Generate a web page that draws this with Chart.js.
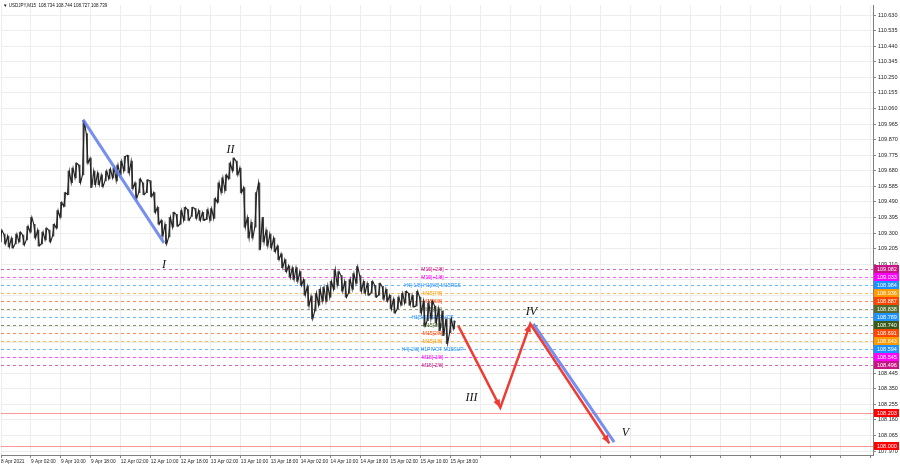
<!DOCTYPE html>
<html>
<head>
<meta charset="utf-8">
<script src="https://cdn.jsdelivr.net/npm/chart.js@4.4.1/dist/chart.umd.min.js"></script>
<style>
  html, body { margin: 0; padding: 0; background: #fff; }
  #wrap { width: 900px; height: 468px; }
</style>
</head>
<body>
<div id="wrap"><canvas id="chart" width="900" height="468"></canvas></div>
<script>
/* ---------------------------------
   DATA
--------------------------------- */
const symbolTitle = "\u25BC USDJPY,M15  108.734 108.744 108.727 108.739";

// one bar per trading hour, starting 8 Apr 18:00
const barHighs = [
  109.318, 109.294, 109.282, 109.270, 109.294, 109.306, 109.288, 109.342, 109.396, 109.354,
  109.318, 109.306, 109.330, 109.318, 109.354, 109.438, 109.487, 109.547, 109.679, 109.697,
  109.727, 109.715, 109.986, 109.908, 109.757, 109.679, 109.667, 109.655, 109.679, 109.691,
  109.697, 109.715, 109.739, 109.769, 109.775, 109.739, 109.607, 109.631, 109.607, 109.625,
  109.619, 109.547, 109.457, 109.378, 109.354, 109.396, 109.426, 109.414, 109.438, 109.457,
  109.444, 109.457, 109.450, 109.438, 109.426, 109.444, 109.450, 109.511, 109.607, 109.637,
  109.655, 109.727, 109.757, 109.739, 109.697, 109.577, 109.396, 109.366, 109.547, 109.607,
  109.396, 109.318, 109.294, 109.270, 109.222, 109.174, 109.138, 109.101, 109.089, 109.089,
  109.065, 109.017, 108.975, 108.915, 108.933, 108.957, 108.969, 108.981, 109.005, 109.077,
  109.065, 109.041, 109.005, 109.017, 109.053, 109.095, 109.041, 109.005, 108.993, 109.005,
  108.981, 108.993, 108.975, 108.957, 108.921, 108.897, 108.909, 108.933, 108.945, 108.933,
  108.921, 108.945, 108.909, 108.885, 108.873, 108.885, 108.855, 108.837, 108.825, 108.777,
  108.777, 108.765
];
const barLows = [
  109.246, 109.234, 109.216, 109.210, 109.234, 109.246, 109.228, 109.258, 109.306, 109.270,
  109.222, 109.234, 109.258, 109.246, 109.282, 109.330, 109.396, 109.463, 109.535, 109.607,
  109.637, 109.607, 109.655, 109.727, 109.577, 109.595, 109.595, 109.583, 109.619, 109.631,
  109.637, 109.619, 109.655, 109.679, 109.667, 109.571, 109.511, 109.547, 109.535, 109.547,
  109.523, 109.426, 109.354, 109.282, 109.234, 109.276, 109.336, 109.342, 109.354, 109.378,
  109.378, 109.402, 109.390, 109.378, 109.378, 109.384, 109.378, 109.390, 109.487, 109.547,
  109.559, 109.631, 109.679, 109.655, 109.547, 109.336, 109.270, 109.270, 109.336, 109.198,
  109.246, 109.222, 109.210, 109.186, 109.138, 109.089, 109.065, 109.029, 109.017, 109.005,
  108.981, 108.921, 108.855, 108.777, 108.825, 108.861, 108.885, 108.885, 108.909, 108.957,
  108.981, 108.945, 108.909, 108.933, 108.957, 108.993, 108.945, 108.933, 108.921, 108.933,
  108.909, 108.921, 108.897, 108.885, 108.837, 108.813, 108.837, 108.861, 108.873, 108.861,
  108.849, 108.855, 108.813, 108.734, 108.765, 108.777, 108.753, 108.704, 108.674, 108.626,
  108.692, 108.716
];

const timeLabels = [
  "8 Apr 2021", "9 Apr 02:00", "9 Apr 10:00", "9 Apr 18:00", "12 Apr 02:00", "12 Apr 10:00",
  "12 Apr 18:00", "13 Apr 02:00", "13 Apr 10:00", "13 Apr 18:00", "14 Apr 02:00", "14 Apr 10:00",
  "14 Apr 18:00", "15 Apr 02:00", "15 Apr 10:00", "15 Apr 18:00"
];

const priceTicks = [
  110.630, 110.535, 110.440, 110.345, 110.250, 110.155, 110.060, 109.965, 109.870, 109.775,
  109.680, 109.585, 109.490, 109.395, 109.300, 109.205, 109.110, 109.015, 108.920, 108.825,
  108.730, 108.635, 108.540, 108.445, 108.350, 108.255, 108.160, 108.065, 107.970
];

// Murrey levels
const levelPrices = [109.082, 109.033, 108.984, 108.936, 108.887, 108.838, 108.789,
                     108.740, 108.691, 108.643, 108.594, 108.545, 108.496, 108.203, 108.000];
const levelTexts = ["M15[+2/8]", "M15[+1/8]", "H4[-1/8] H1[8/8] M15RES", "M15[7/8]", "M15[6/8]",
                    "M15[5/8]", "H1[5/8] M15PIVOT", "M15[3/8]", "M15[2/8]", "M15[1/8]",
                    "H4[-2/8] H1PIVOT M15SUP", "M15[-1/8]", "M15[-2/8]", "", ""];
const levelColors = ["#c71585", "#ff00ff", "#1e90ff", "#ff9900", "#ff4500", "#556b2f", "#1e90ff",
                     "#3a5a1a", "#ff4500", "#ff9900", "#1e90ff", "#ff00ff", "#c71585", "#ff0000", "#ff0000"];
const levelTextHour = 115.2;

// wave markup
const wave1Hours = [21.9, 43.5];
const wave1Prices = [109.992, 109.240];
const projHours = [122.1, 133.3, 141.3, 162.4];
const projPrices = [108.734, 108.235, 108.746, 108.018];
const proj5Hours = [142.1, 163.7];
const proj5Prices = [108.746, 108.024];

const waveNames = ["I", "II", "III", "IV", "V"];
const waveNameHours = [43.5, 61.3, 125.6, 141.6, 166.7];
const waveNamePrices = [109.108, 109.805, 108.295, 108.819, 108.079];

/* ---------------------------------
   RENDERING
--------------------------------- */
const small = '5.5px "Liberation Sans"';
const tiny = '5px "Liberation Sans"';
const toPts = (xs, ys) => xs.map((v, i) => ({ x: v, y: ys[i] }));

// price trace: walk through each hour's range in the direction of travel
const trace = [];
barHighs.forEach((h, i) => {
  const mid = (h + barLows[i]) / 2;
  const prevMid = i ? (barHighs[i - 1] + barLows[i - 1]) / 2 : mid;
  const up = mid >= prevMid;
  trace.push({ x: i - 0.25, y: up ? barLows[i] : h });
  trace.push({ x: i + 0.25, y: up ? h : barLows[i] });
});

const overlay = {
  id: "overlay",
  beforeDatasetsDraw(chart) {
    const { ctx, chartArea: a, scales: { x, y } } = chart;
    ctx.save();
    ctx.beginPath();
    ctx.rect(a.left, a.top, a.width, a.height);
    ctx.clip();
    levelPrices.forEach((p, i) => {
      const py = Math.round(y.getPixelForValue(p)) + 0.5;
      const dashed = levelTexts[i] !== "";
      ctx.globalAlpha = dashed ? 0.65 : 0.4;
      ctx.strokeStyle = levelColors[i];
      ctx.lineWidth = 1;
      ctx.setLineDash(dashed ? [3, 3] : []);
      ctx.beginPath();
      ctx.moveTo(a.left, py);
      ctx.lineTo(a.right, py);
      ctx.stroke();
    });
    ctx.globalAlpha = 1;
    ctx.font = tiny;
    ctx.textAlign = "center";
    ctx.textBaseline = "middle";
    const tx = x.getPixelForValue(levelTextHour);
    levelTexts.forEach((t, i) => {
      if (!t) return;
      ctx.fillStyle = levelColors[i];
      ctx.fillText(t, tx, y.getPixelForValue(levelPrices[i]) + 0.5);
    });
    ctx.restore();
  },
  afterDatasetsDraw(chart) {
    const { ctx, scales: { x, y } } = chart;
    ctx.save();
    // arrow heads on the projected path
    ctx.fillStyle = "#ee3b34";
    for (let i = 1; i < projHours.length; i++) {
      const x0 = x.getPixelForValue(projHours[i - 1]), y0 = y.getPixelForValue(projPrices[i - 1]);
      const x1 = x.getPixelForValue(projHours[i]), y1 = y.getPixelForValue(projPrices[i]);
      const ang = Math.atan2(y1 - y0, x1 - x0);
      ctx.beginPath();
      ctx.moveTo(x1, y1);
      ctx.lineTo(x1 - 8 * Math.cos(ang) + 3.5 * Math.sin(ang), y1 - 8 * Math.sin(ang) - 3.5 * Math.cos(ang));
      ctx.lineTo(x1 - 8 * Math.cos(ang) - 3.5 * Math.sin(ang), y1 - 8 * Math.sin(ang) + 3.5 * Math.cos(ang));
      ctx.closePath();
      ctx.fill();
    }
    ctx.fillStyle = "#111";
    ctx.font = 'italic 12px "Liberation Serif"';
    ctx.textAlign = "center";
    ctx.textBaseline = "middle";
    waveNames.forEach((n, i) => {
      ctx.fillText(n, x.getPixelForValue(waveNameHours[i]), y.getPixelForValue(waveNamePrices[i]));
    });
    ctx.restore();
  },
  afterDraw(chart) {
    const { ctx, chartArea: a, scales: { y } } = chart;
    ctx.save();
    ctx.font = small;
    ctx.textBaseline = "middle";
    levelPrices.forEach((p, i) => {
      const py = Math.round(y.getPixelForValue(p));
      ctx.fillStyle = levelColors[i];
      ctx.fillRect(a.right + 1, py - 4, 25, 8);
      ctx.fillStyle = "#fff";
      ctx.textAlign = "left";
      ctx.fillText(p.toFixed(3), a.right + 4, py + 0.5);
    });
    ctx.fillStyle = "#111";
    ctx.font = '4.5px "Liberation Sans"';
    ctx.fillText(symbolTitle, 3, 6);
    ctx.restore();
  }
};

const gridTicks = [];
for (let h = 0; h <= 232; h += 8) gridTicks.push({ value: h });

new Chart(document.getElementById("chart"), {
  type: "bar",
  data: {
    datasets: [
      {
        type: "line",
        data: toPts(projHours, projPrices),
        borderColor: "#ee3b34",
        borderWidth: 2.5,
        pointRadius: 0,
        order: 0
      },
      {
        type: "line",
        data: toPts(proj5Hours, proj5Prices),
        borderColor: "rgba(95,125,235,0.85)",
        borderWidth: 3,
        pointRadius: 0,
        order: 1
      },
      {
        type: "line",
        data: toPts(wave1Hours, wave1Prices),
        borderColor: "rgba(95,125,235,0.85)",
        borderWidth: 3,
        pointRadius: 0,
        order: 1
      },
      {
        type: "line",
        data: trace,
        borderColor: "#222",
        borderWidth: 1.1,
        pointRadius: 0,
        order: 4
      },
      {
        type: "bar",
        data: barHighs.map((h, i) => ({ x: i, y: [barLows[i], h] })),
        backgroundColor: "#4a4a4a",
        barThickness: 1,
        order: 5
      }
    ]
  },
  options: {
    responsive: false,
    animation: false,
    devicePixelRatio: 1,
    layout: { padding: 0 },
    plugins: { legend: { display: false }, tooltip: { enabled: false } },
    scales: {
      x: {
        type: "linear",
        min: 0,
        max: 232.8,
        offset: false,
        grid: { color: "#ededed", offset: false, tickLength: 3, tickColor: "#888" },
        border: { color: "#808080" },
        ticks: {
          align: "start",
          autoSkip: false,
          maxRotation: 0,
          padding: 1,
          color: "#222",
          font: { size: 4.8, family: "Liberation Sans" },
          callback: (v, i) => timeLabels[i] || ""
        },
        afterBuildTicks: (ax) => { ax.ticks = gridTicks.map((t) => ({ value: t.value })); },
        afterFit: (ax) => { ax.height = 13; }
      },
      y: {
        position: "right",
        min: 107.946,
        max: 110.690,
        grid: { color: "#ededed", tickLength: 3, tickColor: "#888" },
        border: { color: "#808080" },
        ticks: {
          autoSkip: false,
          padding: 2,
          color: "#222",
          font: { size: 5.5, family: "Liberation Sans" },
          callback: (v) => Number(v).toFixed(3)
        },
        afterBuildTicks: (ax) => { ax.ticks = priceTicks.map((v) => ({ value: v })); },
        afterFit: (ax) => { ax.width = 27; }
      }
    }
  },
  plugins: [overlay]
});
</script>
</body>
</html>
